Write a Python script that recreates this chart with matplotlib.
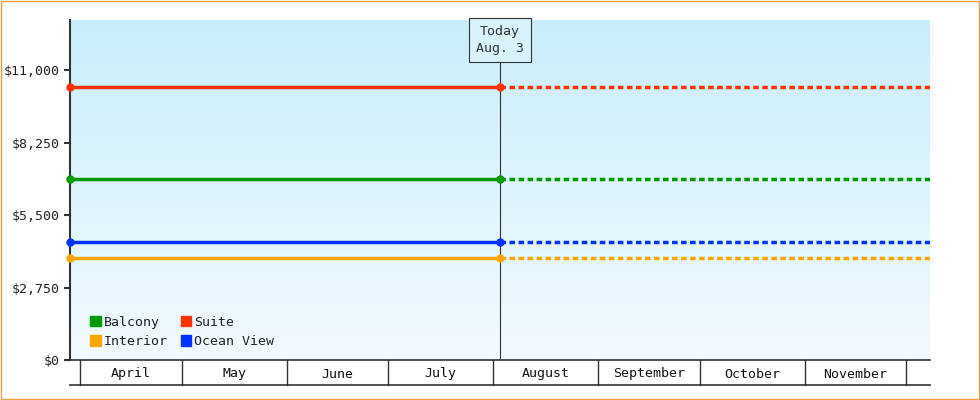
import matplotlib
matplotlib.use("Agg")
import matplotlib.pyplot as plt
import matplotlib.dates as mdates
import matplotlib.transforms as mtrans
import numpy as np
from datetime import date
from matplotlib.colors import LinearSegmentedColormap
from matplotlib.patches import Patch

plt.rcParams['font.family'] = ['DejaVu Sans Mono']

series = ["Balcony", "Suite", "Interior", "Ocean View"]
values = [6870, 10350, 3870, 4480]
colors = ["#009900", "#ff3300", "#ffa500", "#0033ff"]
start, today, end = date(2024, 3, 29), date(2024, 8, 3), date(2024, 12, 8)
months = ["April", "May", "June", "July", "August", "September", "October", "November"]
month_starts = [date(2024, m, 1) for m in range(4, 13)]
yticks = [0, 2750, 5500, 8250, 11000]

fig = plt.figure(figsize=(9.8, 4.0), dpi=100)
fig.patches.append(plt.Rectangle((0.001, 0.002), 0.998, 0.996, transform=fig.transFigure,
                                 fill=False, edgecolor="#f0a040", lw=1))
ax = fig.add_axes([70/980, 40/400, 860/980, 340/400])
xs, xt, xe = mdates.date2num([start, today, end])
ax.set_xlim(xs, xe)
ax.set_ylim(0, 12900)
grad = np.linspace(0, 1, 256).reshape(-1, 1)
cm = LinearSegmentedColormap.from_list("g", ["#f2faff", "#c9eefb"])
ax.imshow(grad, cmap=cm, origin="lower", aspect="auto", extent=(xs, xe, 0, 12900), zorder=0)

for name, v, c in zip(series, values, colors):
    ax.plot([xs, xt], [v, v], color=c, lw=2.5, zorder=3)
    ax.plot([xt, xe], [v, v], color=c, lw=2.5, ls=(0, (1.6, 1.0)), zorder=3)
    ax.plot([xs, xt], [v, v], 'o', color=c, ms=5, zorder=4, clip_on=False)

ax.axvline(xt, color="#333333", lw=0.8, zorder=2)
ax.text(xt, 12140, "Today\nAug. 3", ha="center", va="center", fontsize=9.5, color="#333333",
        bbox=dict(boxstyle="square,pad=0.5", fc="#d8f3fc", ec="#333333", lw=0.8), zorder=5,
        linespacing=1.4)

ax.set_yticks(yticks)
ax.set_yticklabels([f"${t:,}" for t in yticks], fontsize=9.5, color="#222222")
ax.tick_params(axis="y", length=4, width=1.5, color="#333333")
ax.set_xticks([])
for s in ["top", "right", "bottom"]:
    ax.spines[s].set_visible(False)
ax.spines["left"].set_linewidth(1.5)
ax.spines["left"].set_color("#333333")

tr = mtrans.blended_transform_factory(ax.transData, ax.transAxes)
h = -25/340
ax.plot([xs, xe], [0, 0], transform=tr, color="#333333", lw=1.2, clip_on=False)
ax.plot([xs, xe], [h, h], transform=tr, color="#333333", lw=1.2, clip_on=False)
ms = mdates.date2num(month_starts)
for m in ms:
    if m <= xe:
        ax.plot([m, m], [0, h], transform=tr, color="#333333", lw=1, clip_on=False)
for i, name in enumerate(months):
    ax.text((ms[i] + ms[i+1]) / 2, h/2, name, transform=tr, ha="center", va="center_baseline",
            fontsize=9.5, color="#111111", clip_on=False)

order = [0, 2, 1, 3]
handles = [Patch(color=colors[i], label=series[i]) for i in order]
ax.legend(handles=handles, ncol=2, loc="lower left", bbox_to_anchor=(0.01, 0.0),
          frameon=False, fontsize=9.5, handlelength=0.8, handleheight=0.8,
          handletextpad=0.2, columnspacing=1.0, labelspacing=0.5, labelcolor="#222222")

fig.savefig("out.png", dpi=100)
